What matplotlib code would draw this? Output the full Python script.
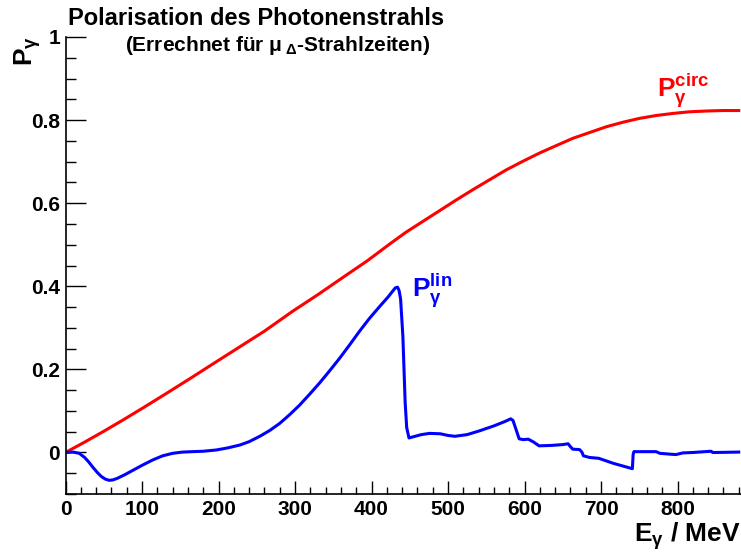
import matplotlib
matplotlib.use("Agg")
import matplotlib.pyplot as plt
from matplotlib.ticker import MultipleLocator, FuncFormatter

plt.rcParams['font.family'] = ['Liberation Sans', 'DejaVu Sans']
plt.rcParams['font.weight'] = 'bold'
plt.rcParams['mathtext.fontset'] = 'custom'
plt.rcParams['mathtext.rm'] = 'Liberation Sans'
plt.rcParams['mathtext.it'] = 'Liberation Sans'
plt.rcParams['mathtext.bf'] = 'Liberation Sans:bold'

# ---- data ----
circ_E = [0, 25, 49, 75, 101, 130, 162, 190, 219, 260, 297, 330, 360, 395, 424,
          445, 467, 489, 511, 533, 554, 576, 598, 620, 642, 663, 685, 707, 729,
          750, 772, 794, 816, 840, 860, 880]
circ_P = [0.0, 0.025, 0.050, 0.078, 0.107, 0.140, 0.177, 0.210, 0.244, 0.292,
          0.340, 0.380, 0.418, 0.462, 0.502, 0.530, 0.556, 0.582, 0.608, 0.633,
          0.656, 0.680, 0.701, 0.721, 0.739, 0.756, 0.770, 0.784, 0.795, 0.804,
          0.811, 0.816, 0.820, 0.822, 0.823, 0.823]

lin_E = [0, 10, 18, 25, 30, 36, 42, 47, 52, 57, 62, 68, 78, 88, 100, 114, 127,
         140, 153, 166, 180, 197, 212, 228, 240, 254, 267, 280, 293, 306, 319,
         332, 345, 358, 371, 384, 397, 410, 422, 431, 434, 436, 438, 441, 444,
         446, 449, 455, 465, 476, 490, 500, 509, 525, 541, 560, 575, 582, 585,
         589, 593, 598, 605, 612, 619, 635, 650, 657, 660, 663, 672, 675, 677,
         685, 697, 716, 741, 742, 743, 760, 772, 777, 790, 798, 807, 820, 844,
         846, 850, 880]
lin_P = [0.0, 0.001, -0.002, -0.012, -0.022, -0.036, -0.049, -0.058, -0.064,
         -0.067, -0.066, -0.062, -0.053, -0.043, -0.031, -0.018, -0.008, -0.002,
         0.001, 0.002, 0.003, 0.006, 0.011, 0.018, 0.026, 0.039, 0.053, 0.070,
         0.091, 0.114, 0.140, 0.167, 0.196, 0.226, 0.258, 0.291, 0.322, 0.350,
         0.375, 0.396, 0.398, 0.390, 0.370, 0.280, 0.120, 0.060, 0.035, 0.038,
         0.043, 0.046, 0.045, 0.041, 0.039, 0.043, 0.052, 0.064, 0.075, 0.081,
         0.077, 0.055, 0.033, 0.031, 0.032, 0.025, 0.016, 0.017, 0.019, 0.021,
         0.014, 0.008, 0.007, 0.001, -0.008, -0.012, -0.014, -0.026, -0.039,
         -0.005, 0.002, 0.002, 0.002, -0.002, -0.004, -0.005, -0.001, 0.000,
         0.003, 0.000, 0.000, 0.001]

y_ticks = [0, 0.2, 0.4, 0.6, 0.8, 1.0]

fig = plt.figure(figsize=(7.41, 5.52), dpi=100)
ax = fig.add_axes([0.0884, 0.105, 1.0 - 0.0884, 0.828])

ax.plot(circ_E, circ_P, color='#ff0000', lw=2.2, solid_joinstyle='round')
ax.plot(lin_E, lin_P, color='#0000ff', lw=2.2, solid_joinstyle='round')

ax.set_xlim(0, 883)
ax.set_ylim(-0.1, 1.0)

for s in ['top', 'right']:
    ax.spines[s].set_visible(False)
for s in ['left', 'bottom']:
    ax.spines[s].set_linewidth(1.2)

ax.xaxis.set_major_locator(MultipleLocator(100))
ax.xaxis.set_minor_locator(MultipleLocator(20))
ax.set_yticks(y_ticks)
ax.yaxis.set_minor_locator(MultipleLocator(0.05))
ax.yaxis.set_major_formatter(FuncFormatter(lambda v, p: '%g' % v))

ax.tick_params(axis='x', which='major', direction='in', length=9.4, width=1, labelsize=15, pad=4)
ax.tick_params(axis='x', which='minor', direction='in', length=5, width=1)
ax.tick_params(axis='y', which='major', direction='in', length=14.4, width=1, labelsize=15, pad=4)
ax.tick_params(axis='y', which='minor', direction='in', length=7.2, width=1)
for lab in ax.get_xticklabels() + ax.get_yticklabels():
    lab.set_fontweight('bold')

fig.text(68 / 741, 1 - 25 / 552, 'Polarisation des Photonenstrahls',
         fontsize=17, fontweight='bold', ha='left', va='baseline')
fig.text(125 / 741, 1 - 51 / 552, r'(Errechnet für $\mu_{\ \Delta}$-Strahlzeiten)',
         fontsize=15, fontweight='bold', ha='left', va='baseline')

fig.text(43 / 741, 1 - 36 / 552, r'$\mathbf{P}_{\gamma}$', fontsize=19,
         rotation=90, ha='right', va='top')
fig.text(741 / 741, 1 - 542 / 552, r'$\mathbf{E}_{\gamma}$ / MeV', fontsize=19,
         fontweight='bold', ha='right', va='baseline')

ax.text(773, 0.856, r'$\mathbf{P}^{\mathbf{circ}}_{\gamma}$', color='#ff0000',
        fontsize=19, ha='left', va='baseline')
ax.text(453, 0.375, r'$\mathbf{P}^{\mathbf{lin}}_{\gamma}$', color='#0000ff',
        fontsize=19, ha='left', va='baseline')

fig.savefig('out.png', dpi=100)
